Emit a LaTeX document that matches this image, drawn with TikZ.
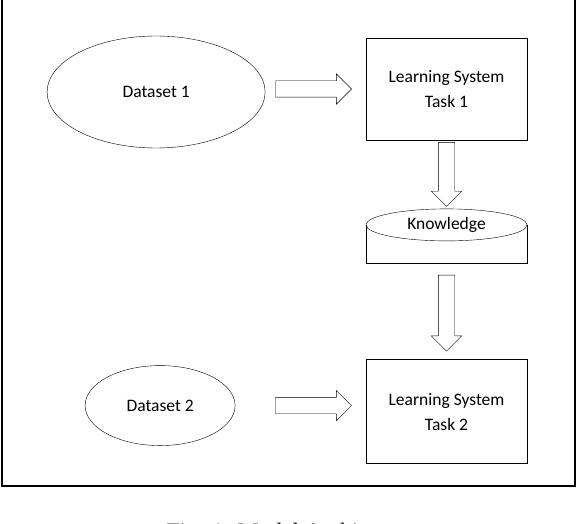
\documentclass[tikz,border=0pt]{standalone}
\usepackage{fontspec}
\setmainfont{Carlito}
\newfontfamily\capfont{Liberation Serif}
\usetikzlibrary{positioning, shapes.geometric, shapes.arrows}

\tikzset{
  dataset/.style={ellipse, draw, thin, inner sep=0pt},
  learner/.style={rectangle, draw, thin, minimum width=161pt, minimum height=102pt, align=center},
  store/.style={ellipse, draw, thin, minimum width=161pt, minimum height=32pt, inner sep=0pt},
  bigarrow/.style={single arrow, draw, thin,
    single arrow head extend=7pt, single arrow head indent=0pt},
  rightarrow/.style={bigarrow, inner xsep=0pt, inner ysep=8pt, minimum height=76pt},
  downarrow/.style={bigarrow, inner xsep=8pt, inner ysep=0pt, shape border rotate=270}
}

\begin{document}
\begin{tikzpicture}[x=1pt, y=-1pt, font=\fontsize{17.5}{25}\selectfont]
    \useasboundingbox (0,0) rectangle (578,524);
    \draw[line width=2pt] (2,-10) rectangle (575,486);

    \node[learner] (task1) at (446.5,89) {Learning System\\Task 1};
    \node[rightarrow] (arrA) [left=14pt of task1] {};
    \node[dataset, minimum width=218pt, minimum height=112pt] (data1) [left=10pt of arrA, yshift=-3pt] {Dataset 1};

    \node[downarrow, minimum height=64pt] (arrB) [below=2pt of task1] {};
    \node[store] (know) [below=2pt of arrB] {Knowledge};
    \coordinate (knowbase) at ([yshift=-38pt]know.center);
    \draw[thin] (know.west) |- (knowbase) -| (know.east);

    \node[downarrow, minimum height=76pt] (arrC) [below=12pt of knowbase] {};
    \node[learner, minimum height=104pt] (task2) [below=8pt of arrC] {Learning System\\Task 2};
    \node[rightarrow] (arrD) [left=14pt of task2, yshift=6pt] {};
    \node[dataset, minimum width=150pt, minimum height=80pt] (data2) [left=40pt of arrD] {Dataset 2};

    \node[font=\capfont\fontsize{23.5}{28}\selectfont, anchor=base west] (caption) at (163,539) {Fig. 1: Model Architecture};
\end{tikzpicture}
\end{document}
